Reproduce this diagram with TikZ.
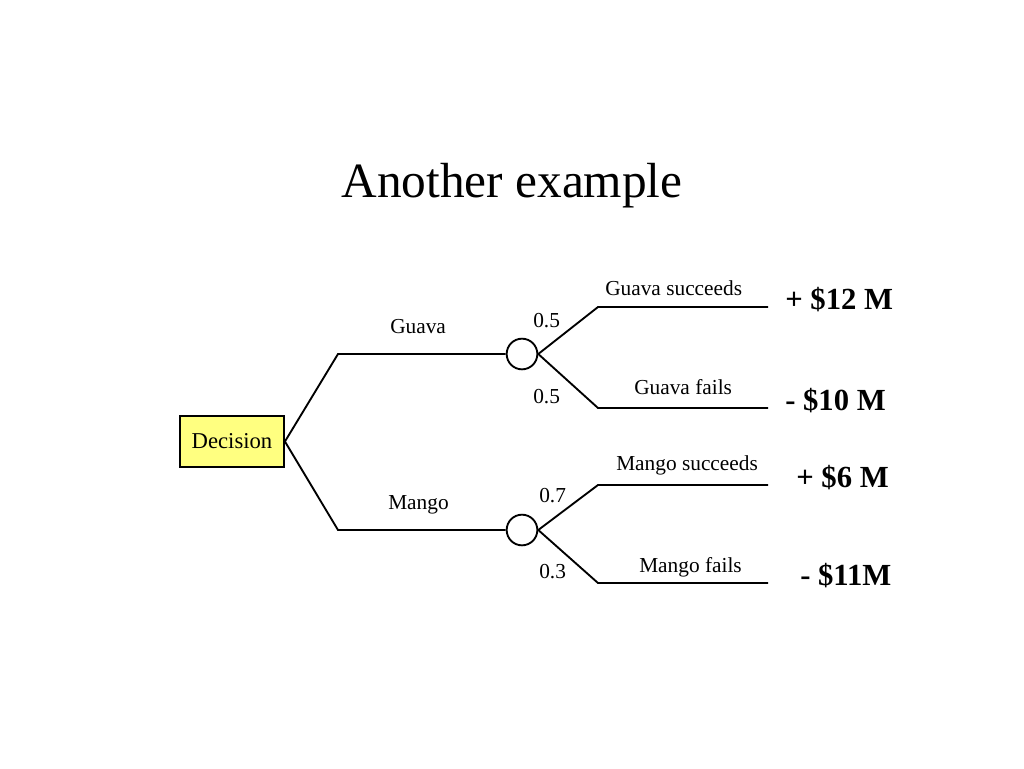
\documentclass[tikz,border=0pt]{standalone}
\usepackage{fontspec}
\setmainfont{Liberation Serif}
\definecolor{boxyellow}{RGB}{255,255,128}
\begin{document}
\begin{tikzpicture}[x=0.75pt,y=-0.75pt,
  branch/.style={line width=1.4pt},
  lab/.style={font=\fontsize{16}{18}\selectfont, inner sep=0pt, anchor=base west},
  pay/.style={font=\bfseries\fontsize{23}{26}\selectfont, inner sep=0pt, anchor=base west},
  chance/.style={circle, draw, line width=1.4pt, minimum size=23pt, inner sep=0pt},
  decbox/.style={draw, fill=boxyellow, line width=1.4pt, minimum width=78pt, minimum height=38.5pt, inner sep=0pt, font=\fontsize{17}{19}\selectfont}
]
\useasboundingbox (0,0) rectangle (1024,768);
\node[font=\fontsize{37}{40}\selectfont, inner sep=0pt, anchor=base] (title) at (512,197) {Another example};

\node[decbox] (dec) at (232,441.5) {Decision};
\node[chance] (c1) at (522,354) {};
\node[chance] (c2) at (522,530) {};

\coordinate (gA) at (338,354);
\coordinate (mA) at (338,530);
\coordinate (gS) at (598,307);  \coordinate (gSe) at (768,307);
\coordinate (gF) at (598,408);  \coordinate (gFe) at (768,408);
\coordinate (mS) at (598,485);  \coordinate (mSe) at (768,485);
\coordinate (mF) at (598,583);  \coordinate (mFe) at (768,583);

\draw[branch] (dec.east) -- (gA) -- (c1.west);
\draw[branch] (dec.east) -- (mA) -- (c2.west);
\draw[branch] (c1.east) -- (gS) -- (gSe);
\draw[branch] (c1.east) -- (gF) -- (gFe);
\draw[branch] (c2.east) -- (mS) -- (mSe);
\draw[branch] (c2.east) -- (mF) -- (mFe);

\node[lab] (lg) at (390,333) {Guava};
\node[lab] (lm) at (388,509) {Mango};
\node[lab] (p1) at (533,327) {0.5};
\node[lab] (p2) at (533,403) {0.5};
\node[lab] (p3) at (539,502) {0.7};
\node[lab] (p4) at (539,578) {0.3};
\node[lab] (lgs) at (605,295) {Guava succeeds};
\node[lab] (lgf) at (634,394) {Guava fails};
\node[lab] (lms) at (616,470) {Mango succeeds};
\node[lab] (lmf) at (639,572) {Mango fails};

\node[pay] (v1) at (785,309) {+ \$12 M};
\node[pay] (v2) at (785,410) {- \$10 M};
\node[pay] (v3) at (796,487) {+ \$6 M};
\node[pay] (v4) at (800,585) {- \$11M};
\end{tikzpicture}
\end{document}
